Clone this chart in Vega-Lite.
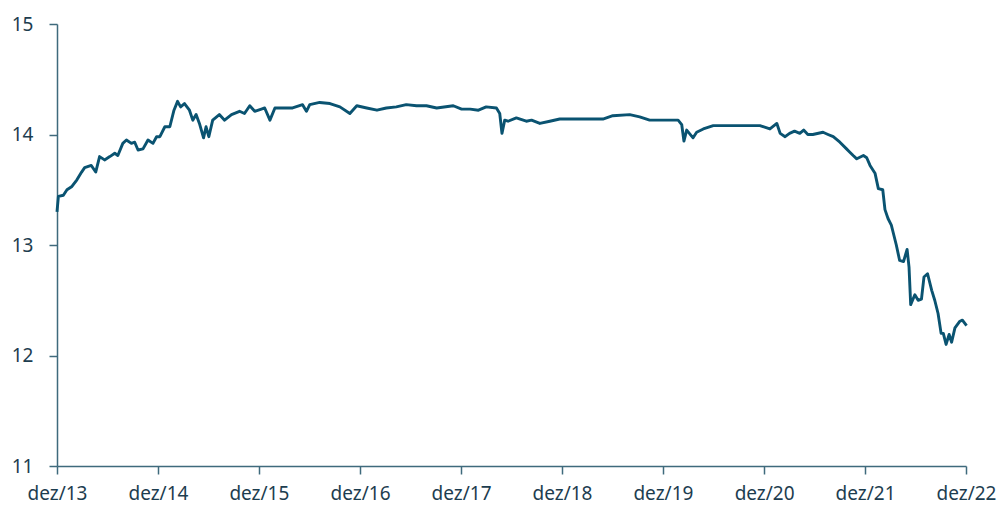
{
  "$schema": "https://vega.github.io/schema/vega-lite/v6.json",
  "width": 909,
  "height": 442,
  "autosize": {"type": "none"},
  "padding": {"left": 57, "top": 24, "right": 33, "bottom": 44},
  "background": "white",
  "config": {
    "view": {"stroke": null},
    "font": "Noto Sans"
  },
  "data": {
    "values": [
      {"date": "2013-12-01", "v": 13.30},
      {"date": "2013-12-06", "v": 13.44},
      {"date": "2013-12-24", "v": 13.45},
      {"date": "2014-01-06", "v": 13.50},
      {"date": "2014-01-24", "v": 13.53},
      {"date": "2014-02-11", "v": 13.59},
      {"date": "2014-02-28", "v": 13.66},
      {"date": "2014-03-11", "v": 13.70},
      {"date": "2014-04-04", "v": 13.72},
      {"date": "2014-04-20", "v": 13.66},
      {"date": "2014-05-04", "v": 13.80},
      {"date": "2014-05-22", "v": 13.77},
      {"date": "2014-06-10", "v": 13.80},
      {"date": "2014-06-28", "v": 13.83},
      {"date": "2014-07-09", "v": 13.81},
      {"date": "2014-07-27", "v": 13.92},
      {"date": "2014-08-09", "v": 13.95},
      {"date": "2014-08-27", "v": 13.92},
      {"date": "2014-09-08", "v": 13.93},
      {"date": "2014-09-20", "v": 13.86},
      {"date": "2014-10-08", "v": 13.87},
      {"date": "2014-10-26", "v": 13.95},
      {"date": "2014-11-13", "v": 13.92},
      {"date": "2014-11-26", "v": 13.98},
      {"date": "2014-12-08", "v": 13.98},
      {"date": "2014-12-26", "v": 14.07},
      {"date": "2015-01-13", "v": 14.07},
      {"date": "2015-01-28", "v": 14.22},
      {"date": "2015-02-10", "v": 14.30},
      {"date": "2015-02-21", "v": 14.25},
      {"date": "2015-03-07", "v": 14.28},
      {"date": "2015-03-25", "v": 14.22},
      {"date": "2015-04-06", "v": 14.13},
      {"date": "2015-04-18", "v": 14.18},
      {"date": "2015-04-30", "v": 14.10},
      {"date": "2015-05-15", "v": 13.97},
      {"date": "2015-05-24", "v": 14.07},
      {"date": "2015-06-03", "v": 13.98},
      {"date": "2015-06-17", "v": 14.13},
      {"date": "2015-07-11", "v": 14.18},
      {"date": "2015-07-30", "v": 14.13},
      {"date": "2015-08-24", "v": 14.18},
      {"date": "2015-09-22", "v": 14.21},
      {"date": "2015-10-10", "v": 14.19},
      {"date": "2015-10-29", "v": 14.26},
      {"date": "2015-11-16", "v": 14.21},
      {"date": "2015-12-10", "v": 14.23},
      {"date": "2015-12-22", "v": 14.24},
      {"date": "2016-01-10", "v": 14.13},
      {"date": "2016-01-28", "v": 14.24},
      {"date": "2016-03-03", "v": 14.24},
      {"date": "2016-04-01", "v": 14.24},
      {"date": "2016-05-07", "v": 14.27},
      {"date": "2016-05-21", "v": 14.21},
      {"date": "2016-06-02", "v": 14.27},
      {"date": "2016-07-08", "v": 14.29},
      {"date": "2016-08-14", "v": 14.28},
      {"date": "2016-09-19", "v": 14.25},
      {"date": "2016-10-25", "v": 14.19},
      {"date": "2016-11-19", "v": 14.26},
      {"date": "2016-12-25", "v": 14.24},
      {"date": "2017-01-31", "v": 14.22},
      {"date": "2017-03-06", "v": 14.24},
      {"date": "2017-04-11", "v": 14.25},
      {"date": "2017-05-17", "v": 14.27},
      {"date": "2017-06-23", "v": 14.26},
      {"date": "2017-07-29", "v": 14.26},
      {"date": "2017-09-04", "v": 14.24},
      {"date": "2017-11-03", "v": 14.26},
      {"date": "2017-12-03", "v": 14.23},
      {"date": "2018-01-03", "v": 14.23},
      {"date": "2018-02-02", "v": 14.22},
      {"date": "2018-03-02", "v": 14.25},
      {"date": "2018-04-08", "v": 14.24},
      {"date": "2018-04-20", "v": 14.19},
      {"date": "2018-04-28", "v": 14.01},
      {"date": "2018-05-08", "v": 14.13},
      {"date": "2018-05-20", "v": 14.12},
      {"date": "2018-06-19", "v": 14.15},
      {"date": "2018-07-25", "v": 14.12},
      {"date": "2018-08-13", "v": 14.13},
      {"date": "2018-09-12", "v": 14.10},
      {"date": "2018-10-18", "v": 14.12},
      {"date": "2018-11-23", "v": 14.14},
      {"date": "2019-01-11", "v": 14.14},
      {"date": "2019-02-27", "v": 14.14},
      {"date": "2019-04-28", "v": 14.14},
      {"date": "2019-06-03", "v": 14.17},
      {"date": "2019-08-03", "v": 14.18},
      {"date": "2019-09-08", "v": 14.16},
      {"date": "2019-10-14", "v": 14.13},
      {"date": "2019-11-20", "v": 14.13},
      {"date": "2019-12-26", "v": 14.13},
      {"date": "2020-01-25", "v": 14.13},
      {"date": "2020-02-07", "v": 14.09},
      {"date": "2020-02-15", "v": 13.94},
      {"date": "2020-02-25", "v": 14.04},
      {"date": "2020-03-19", "v": 13.97},
      {"date": "2020-04-01", "v": 14.02},
      {"date": "2020-04-25", "v": 14.05},
      {"date": "2020-05-31", "v": 14.08},
      {"date": "2020-07-30", "v": 14.08},
      {"date": "2020-09-29", "v": 14.08},
      {"date": "2020-11-16", "v": 14.08},
      {"date": "2020-12-22", "v": 14.05},
      {"date": "2021-01-16", "v": 14.10},
      {"date": "2021-01-28", "v": 14.01},
      {"date": "2021-02-15", "v": 13.98},
      {"date": "2021-03-03", "v": 14.01},
      {"date": "2021-03-21", "v": 14.03},
      {"date": "2021-04-09", "v": 14.01},
      {"date": "2021-04-23", "v": 14.04},
      {"date": "2021-05-08", "v": 14.00},
      {"date": "2021-05-26", "v": 14.00},
      {"date": "2021-07-02", "v": 14.02},
      {"date": "2021-07-20", "v": 14.00},
      {"date": "2021-08-08", "v": 13.98},
      {"date": "2021-09-01", "v": 13.93},
      {"date": "2021-09-25", "v": 13.87},
      {"date": "2021-10-07", "v": 13.84},
      {"date": "2021-10-19", "v": 13.81},
      {"date": "2021-11-01", "v": 13.78},
      {"date": "2021-11-25", "v": 13.81},
      {"date": "2021-12-07", "v": 13.79},
      {"date": "2021-12-19", "v": 13.72},
      {"date": "2022-01-06", "v": 13.65},
      {"date": "2022-01-18", "v": 13.51},
      {"date": "2022-02-03", "v": 13.50},
      {"date": "2022-02-11", "v": 13.32},
      {"date": "2022-02-22", "v": 13.24},
      {"date": "2022-03-06", "v": 13.18},
      {"date": "2022-03-12", "v": 13.12},
      {"date": "2022-03-24", "v": 13.00},
      {"date": "2022-04-05", "v": 12.86},
      {"date": "2022-04-19", "v": 12.85},
      {"date": "2022-05-02", "v": 12.96},
      {"date": "2022-05-09", "v": 12.80},
      {"date": "2022-05-15", "v": 12.46},
      {"date": "2022-05-30", "v": 12.55},
      {"date": "2022-06-11", "v": 12.50},
      {"date": "2022-06-23", "v": 12.51},
      {"date": "2022-07-02", "v": 12.71},
      {"date": "2022-07-15", "v": 12.74},
      {"date": "2022-07-30", "v": 12.59},
      {"date": "2022-08-10", "v": 12.50},
      {"date": "2022-08-22", "v": 12.38},
      {"date": "2022-09-02", "v": 12.20},
      {"date": "2022-09-10", "v": 12.20},
      {"date": "2022-09-20", "v": 12.10},
      {"date": "2022-10-01", "v": 12.19},
      {"date": "2022-10-10", "v": 12.12},
      {"date": "2022-10-22", "v": 12.25},
      {"date": "2022-11-09", "v": 12.31},
      {"date": "2022-11-18", "v": 12.32},
      {"date": "2022-12-03", "v": 12.27}
    ]
  },
  "mark": {"type": "line", "color": "#0a5371", "strokeWidth": 2.9, "strokeJoin": "round", "clip": false},
  "encoding": {
    "x": {
      "field": "date",
      "type": "temporal",
      "scale": {
        "type": "utc",
        "domain": [
          {"year": 2013, "month": 12, "date": 1, "utc": true},
          {"year": 2022, "month": 12, "date": 1, "utc": true}
        ]
      },
      "axis": {
        "title": null,
        "grid": false,
        "values": [
          {"year": 2013, "month": 12, "date": 1, "utc": true},
          {"year": 2014, "month": 12, "date": 1, "utc": true},
          {"year": 2015, "month": 12, "date": 1, "utc": true},
          {"year": 2016, "month": 12, "date": 1, "utc": true},
          {"year": 2017, "month": 12, "date": 1, "utc": true},
          {"year": 2018, "month": 12, "date": 1, "utc": true},
          {"year": 2019, "month": 12, "date": 1, "utc": true},
          {"year": 2020, "month": 12, "date": 1, "utc": true},
          {"year": 2021, "month": 12, "date": 1, "utc": true},
          {"year": 2022, "month": 12, "date": 1, "utc": true}
        ],
        "labelExpr": "'dez/' + utcFormat(datum.value, '%y')",
        "labelFont": "Noto Sans",
        "labelFontSize": 19,
        "labelColor": "#1d3d4f",
        "labelPadding": 10,
        "labelFlush": false,
        "labelOverlap": false,
        "domainColor": "#3f6a7c",
        "domainWidth": 1.5,
        "tickColor": "#3f6a7c",
        "tickWidth": 1.5,
        "tickSize": 8
      }
    },
    "y": {
      "field": "v",
      "type": "quantitative",
      "scale": {"domain": [11, 15], "zero": false},
      "axis": {
        "title": null,
        "grid": false,
        "values": [11, 12, 13, 14, 15],
        "labelFont": "Noto Sans",
        "labelFontSize": 19,
        "labelColor": "#1d3d4f",
        "labelPadding": 16,
        "domainColor": "#3f6a7c",
        "domainWidth": 1.5,
        "tickColor": "#3f6a7c",
        "tickWidth": 1.5,
        "tickSize": 8
      }
    }
  }
}
